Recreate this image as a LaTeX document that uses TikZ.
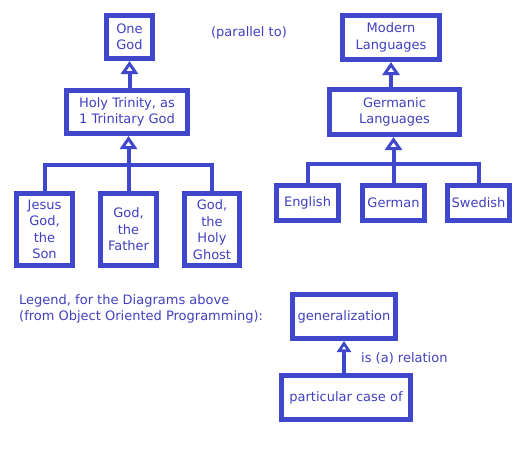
\documentclass[tikz,border=0pt]{standalone}
\usepackage{fontspec}
\setmainfont{DejaVu Sans}
\usetikzlibrary{arrows.meta}
\definecolor{umlblue}{RGB}{63,72,204}
\definecolor{txtblue}{RGB}{64,64,192}
\tikzset{
    cls/.style={draw=umlblue, line width=5pt, fill=white, text=txtblue, align=center,
        inner sep=0pt, font=\fontsize{13}{16.5}\selectfont},
    isa/.style={draw=umlblue, line width=4pt,
        -{Triangle[open, length=13pt, width=17pt, line width=3pt]}},
    link/.style={draw=umlblue, line width=4pt},
    lbl/.style={text=txtblue, inner sep=0pt, font=\fontsize{13}{16}\selectfont}
}

\begin{document}
\begin{tikzpicture}[x=1pt, y=-1pt]
    \useasboundingbox (0,0) rectangle (526,448);

    \node[cls, minimum width=46pt, minimum height=43pt] (god) at (129.5, 37) {One\\God};
    \node[cls, minimum width=121pt, minimum height=43pt] (trin) at (127, 112) {Holy Trinity, as\\1 Trinitary God};
    \node[cls, minimum width=56pt, minimum height=72pt] (son) at (44.5, 229.5) {Jesus\\God,\\the\\Son};
    \node[cls, minimum width=56pt, minimum height=72pt] (father) at (128.5, 229.5) {God,\\the\\Father};
    \node[cls, minimum width=55pt, minimum height=72pt] (ghost) at (212, 229.5) {God,\\the\\Holy\\Ghost};
    \coordinate (f1) at (128.5, 165);

    \draw[isa] (god.south |- trin.north) -- (god.south);
    \draw[isa] (f1) -- (f1 |- trin.south);
    \draw[link] (son.north) |- (f1) -| (ghost.north);
    \draw[link] (father.north) -- (f1);

    \node[lbl] (par) at (249, 33) {(parallel to)};

    \node[cls, minimum width=97pt, minimum height=44pt] (modern) at (391, 37.5) {Modern\\Languages};
    \node[cls, minimum width=130pt, minimum height=45pt] (germ) at (394.5, 112) {Germanic\\Languages};
    \node[cls, minimum width=62pt, minimum height=35pt] (eng) at (307.5, 203) {English};
    \node[cls, minimum width=62pt, minimum height=35pt] (ger) at (393.5, 203) {German};
    \node[cls, minimum width=62pt, minimum height=35pt] (swe) at (478.5, 203) {Swedish};
    \coordinate (f2) at (393.5, 164);

    \draw[isa] (modern.south |- germ.north) -- (modern.south);
    \draw[isa] (f2) -- (f2 |- germ.south);
    \draw[link] (eng.north) |- (f2) -| (swe.north);
    \draw[link] (ger.north) -- (f2);

    \node[lbl, anchor=west, align=left] (leg) at (19, 308.5) {Legend, for the Diagrams above\\(from Object Oriented Programming):};
    \node[cls, minimum width=103pt, minimum height=44pt] (gen) at (344, 316.5) {generalization};
    \node[cls, minimum width=129pt, minimum height=44pt] (part) at (346, 397.5) {particular case of};
    \draw[isa, -{Triangle[open, length=11pt, width=14pt, line width=4pt]}] (part.north -| gen.south) -- (gen.south);
    \node[lbl, anchor=west] (rel) at (361, 358) {is (a) relation};
\end{tikzpicture}
\end{document}
